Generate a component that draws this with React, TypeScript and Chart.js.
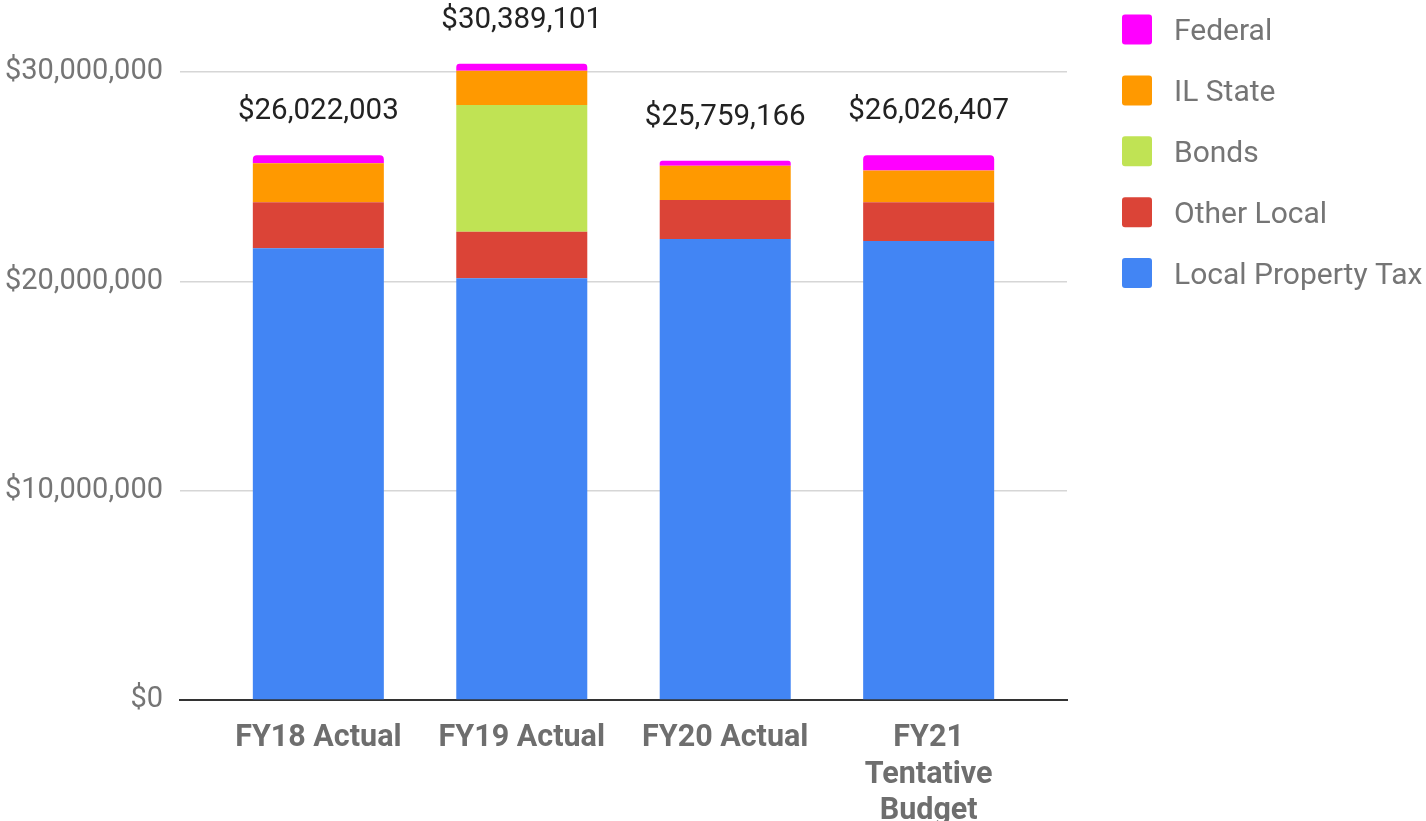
import React, { useEffect, useRef } from 'react';
import { Chart, registerables } from 'chart.js';

Chart.register(...registerables);

// ---- Data ----
const CATEGORIES: (string | string[])[] = ['FY18 Actual', 'FY19 Actual', 'FY20 Actual', ['FY21', 'Tentative', 'Budget']];
const LOCAL_PROPERTY_TAX = [21580000, 20150000, 22020000, 21930000];
const OTHER_LOCAL = [2200000, 2220000, 1870000, 1850000];
const BONDS = [0, 6050000, 0, 0];
const IL_STATE = [1860000, 1640000, 1630000, 1510000];
const FEDERAL = [382003, 329101, 239166, 736407];
const Y_TICKS = [0, 10000000, 20000000, 30000000];

const SERIES_NAMES = ['Local Property Tax', 'Other Local', 'Bonds', 'IL State', 'Federal'];
const SERIES_COLORS = ['#4285f4', '#db4437', '#c0e354', '#ff9900', '#ff00ff'];
const SERIES_VALUES = [LOCAL_PROPERTY_TAX, OTHER_LOCAL, BONDS, IL_STATE, FEDERAL];

const FONT = 'Roboto';
const fmt = (v: number) => '$' + Math.round(v).toLocaleString('en-US');

const totalsPlugin = {
  id: 'totals',
  afterDatasetsDraw(chart: any) {
    const { ctx, scales } = chart;
    const n = CATEGORIES.length;
    ctx.save();
    ctx.font = `29.5px ${FONT}`;
    ctx.fillStyle = '#222222';
    ctx.textAlign = 'center';
    ctx.textBaseline = 'alphabetic';
    for (let i = 0; i < n; i++) {
      let total = 0;
      chart.data.datasets.forEach((ds: any) => { total += ds.data[i].y; });
      const x = scales.x.getPixelForValue(i);
      const y = scales.y.getPixelForValue(total);
      ctx.fillText(fmt(total), x, y - 36);
    }
    ctx.restore();
  },
};

const legendPlugin = {
  id: 'sideLegend',
  afterDraw(chart: any) {
    const { ctx } = chart;
    const items = [...chart.data.datasets].reverse();
    ctx.save();
    ctx.font = `30px ${FONT}`;
    ctx.textAlign = 'left';
    ctx.textBaseline = 'alphabetic';
    items.forEach((ds: any, k: number) => {
      const cy = 29.5 + k * 60.9;
      ctx.fillStyle = ds.backgroundColor;
      ctx.beginPath();
      (ctx as any).roundRect(1122, cy - 15, 30, 30, 3);
      ctx.fill();
      ctx.fillStyle = '#757575';
      ctx.fillText(ds.label, 1174, cy + 10.5);
    });
    ctx.restore();
  },
};

export default function App() {
  const ref = useRef<HTMLCanvasElement | null>(null);

  useEffect(() => {
    if (!ref.current) return;
    const datasets = SERIES_NAMES.map((name, s) => ({
      label: name,
      data: SERIES_VALUES[s].map((v, i) => ({ x: i, y: v })),
      backgroundColor: SERIES_COLORS[s],
      borderWidth: 0,
      borderRadius: name === 'Federal' ? { topLeft: 4, topRight: 4, bottomLeft: 0, bottomRight: 0 } : 0,
      borderSkipped: false,
      barPercentage: 0.644,
      categoryPercentage: 1,
      clip: false,
    }));

    const chart = new Chart(ref.current, {
      type: 'bar',
      data: { datasets } as any,
      options: {
        responsive: false,
        animation: false,
        layout: { padding: { left: 0, right: 359, top: 72, bottom: 0 } },
        plugins: {
          legend: { display: false },
          tooltip: { enabled: false },
        },
        scales: {
          x: {
            type: 'linear',
            offset: false,
            stacked: true,
            min: -0.68,
            max: 3.68,
            afterBuildTicks: (scale: any) => {
              scale.ticks = CATEGORIES.map((_, i) => ({ value: i }));
            },
            afterFit: (scale: any) => {
              scale.height = 121;
            },
            grid: { display: false, drawTicks: false, offset: false },
            border: { display: true, color: '#333333', width: 2 },
            ticks: {
              autoSkip: false,
              maxRotation: 0,
              padding: 20,
              color: '#6e6e6e',
              font: { family: FONT, size: 30.5, weight: 'bold', lineHeight: 1.2 },
              callback: (v: any) => CATEGORIES[Number(v)] as any,
            },
          },
          y: {
            stacked: true,
            min: 0,
            max: 30000000,
            afterBuildTicks: (scale: any) => {
              scale.ticks = Y_TICKS.map((v) => ({ value: v }));
            },
            afterFit: (scale: any) => {
              scale.width = 180;
            },
            grid: { color: '#d6d6d6', lineWidth: 1.5, drawTicks: false },
            border: { display: false },
            ticks: {
              padding: 17,
              color: '#757575',
              font: { family: FONT, size: 29 },
              callback: (v: any) => fmt(Number(v)),
            },
          },
        },
      } as any,
      plugins: [totalsPlugin, legendPlugin],
    });
    return () => chart.destroy();
  }, []);

  return (
    <div style={{ position: 'fixed', left: 0, top: 0, width: 1426, height: 821, background: '#ffffff' }}>
      <canvas ref={ref} width={1426} height={821} style={{ display: 'block' }} />
    </div>
  );
}
